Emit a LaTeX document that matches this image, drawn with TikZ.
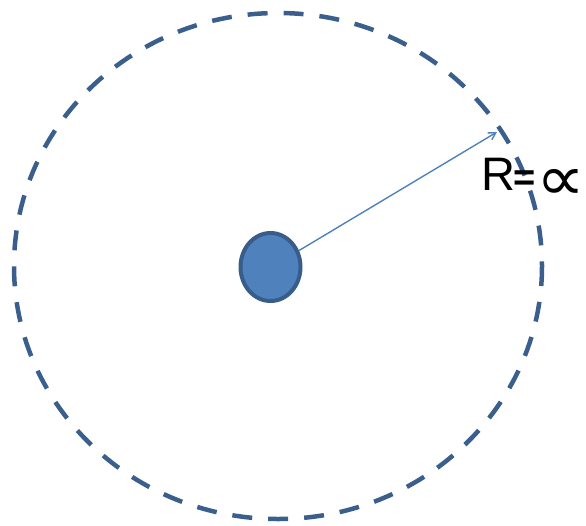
\documentclass[tikz,border=0pt]{standalone}
\usepackage{fontspec}
\usepackage{graphicx}
\setmainfont{Liberation Sans}
\newfontfamily\symfont{DejaVu Sans}
\definecolor{ringblue}{HTML}{3B5F8C}
\definecolor{fillblue}{HTML}{4F81BD}
\definecolor{edgeblue}{HTML}{385D8A}
\usetikzlibrary{arrows.meta}
\tikzset{
  ring/.style={draw=ringblue, line width=4.5pt, dash pattern=on 20pt off 16pt},
  core/.style={ellipse, draw=edgeblue, fill=fillblue, line width=4pt, minimum width=60pt, minimum height=68pt, inner sep=0pt},
  radius/.style={draw=fillblue, line width=1.4pt, -{Straight Barb[length=7pt,width=8pt]}},
  lbl/.style={anchor=base west, inner sep=0pt, font=\fontsize{47}{50}\selectfont}
}
\usetikzlibrary{shapes.geometric}
\begin{document}
\begin{tikzpicture}[x=1pt,y=-1pt]
\useasboundingbox (0,0) rectangle (586,525);
\draw[ring] (278,266) ellipse [x radius=264, y radius=253];
\node[core] (c) at (270.5,267) {};
\coordinate (tip) at (497,132);
\draw[radius] (c.30) -- (tip);
\node[lbl] (r) at (481,190) {R\kern-2pt{\bfseries\fontsize{38}{38}\selectfont=}\kern1pt\raisebox{-10pt}{\scalebox{1.18}[1.1]{\symfont\fontsize{58}{58}\selectfont ∝}}};
\end{tikzpicture}
\end{document}
